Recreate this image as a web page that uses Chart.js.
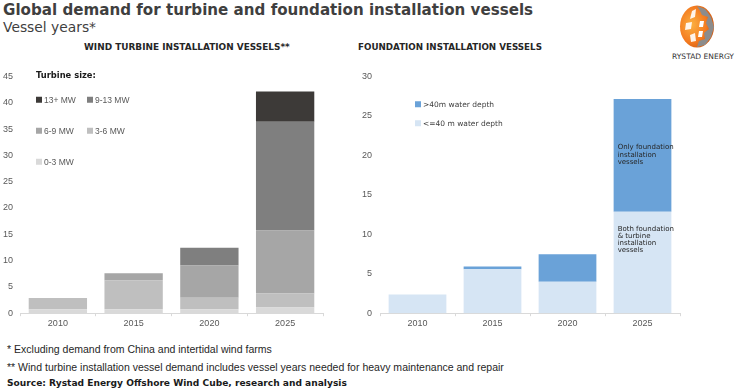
<!DOCTYPE html>
<html><head><meta charset="utf-8">
<script src="https://cdn.jsdelivr.net/npm/chart.js@4.4.0/dist/chart.umd.min.js"></script>
<style>
body{margin:0;width:737px;height:391px;background:#fff;position:relative;overflow:hidden;font-family:"DejaVu Sans",sans-serif;color:#404040}
.t{position:absolute;white-space:nowrap;line-height:1;transform:translateY(-50%)}
.sq{display:inline-block;width:6px;height:6px;margin-right:2px;vertical-align:middle;position:relative;top:-1px}
.cw{position:absolute}
</style></head><body>
<div class="t" id="title" data-w="530" style="left:3px;top:11px;font-weight:bold;font-size:15px;color:#3f3f3f">Global demand for turbine and foundation installation vessels</div>
<div class="t" id="sub" data-w="93" style="left:3px;top:28px;font-size:14px;color:#3f3f3f">Vessel years*</div>
<div class="t" data-w="206" style="left:84px;top:47px;font-weight:bold;font-size:9px;color:#262626">WIND TURBINE INSTALLATION VESSELS**</div>
<div class="t" data-w="184" style="left:358px;top:47px;font-weight:bold;font-size:9px;color:#262626">FOUNDATION INSTALLATION VESSELS</div>

<svg style="position:absolute;left:678px;top:3px" width="38" height="47" viewBox="0 0 38 47">
  <defs><radialGradient id="g" cx="0.35" cy="0.45" r="0.7"><stop offset="0" stop-color="#fbb040"/><stop offset="0.6" stop-color="#f47b20"/><stop offset="1" stop-color="#c9530d"/></radialGradient></defs>
  <ellipse cx="19" cy="23.5" rx="17" ry="21" fill="url(#g)"/>
  <path d="M19 3 L27 6 L33 14 L36 24 L33 34 L27 42 L19 44 L21 38 L27 36 L26 30 L31 26 L28 20 L30 14 L24 12 L22 8 Z" fill="#8c8c8c"/>
  <path d="M14 8 L18 6 L17 14 L12 16 Z M8 20 L14 19 L13 26 L7 27 Z M12 32 L17 30 L18 38 L13 39 Z" fill="#fff" opacity="0.9"/>
  <path d="M22 18 L26 18 L25 24 L21 24 Z M21 28 L25 28 L24 34 L20 34 Z" fill="#fff"/>
</svg>
<div class="t" data-w="62" style="left:672px;top:57px;font-size:8px;color:#333">RYSTAD ENERGY</div>

<div class="cw" style="left:0px;top:64px;width:328px;height:267px"><canvas id="c1"></canvas></div>
<div class="cw" style="left:358px;top:63px;width:324px;height:268px"><canvas id="c2"></canvas></div>

<div class="t" data-w="60" style="left:36px;top:75px;font-weight:bold;font-size:8px;color:#1a1a1a">Turbine size:</div>
<div class="t" style="left:36px;top:100px;font-family:'Liberation Sans',sans-serif;font-size:8.5px;color:#595959"><span class="sq" style="background:#3d3a38"></span>13+ MW</div>
<div class="t" style="left:87px;top:100px;font-family:'Liberation Sans',sans-serif;font-size:8.5px;color:#595959"><span class="sq" style="background:#7f7f7f"></span>9-13 MW</div>
<div class="t" style="left:36px;top:131px;font-family:'Liberation Sans',sans-serif;font-size:8.5px;color:#595959"><span class="sq" style="background:#a6a6a6"></span>6-9 MW</div>
<div class="t" style="left:87px;top:131px;font-family:'Liberation Sans',sans-serif;font-size:8.5px;color:#595959"><span class="sq" style="background:#bfbfbf"></span>3-6 MW</div>
<div class="t" style="left:36px;top:162px;font-family:'Liberation Sans',sans-serif;font-size:8.5px;color:#595959"><span class="sq" style="background:#d9d9d9"></span>0-3 MW</div>

<div class="t" style="left:415px;top:105px;font-size:7.5px;color:#404040"><span class="sq" style="background:#6aa2d8"></span>&gt;40m water depth</div>
<div class="t" style="left:415px;top:124px;font-size:7.5px;color:#404040"><span class="sq" style="background:#d6e5f4"></span>&lt;=40 m water depth</div>

<div class="t" data-w="265" style="left:7px;top:349px;font-family:'Liberation Sans',sans-serif;font-size:10px;color:#262626">* Excluding demand from China and intertidal wind farms</div>
<div class="t" data-w="497" style="left:7px;top:367px;font-family:'Liberation Sans',sans-serif;font-size:10px;color:#262626">** Wind turbine installation vessel demand includes vessel years needed for heavy maintenance and repair</div>
<div class="t" data-w="340" style="left:7px;top:384px;font-weight:bold;font-size:10px;color:#1a1a1a">Source: Rystad Energy Offshore Wind Cube, research and analysis</div>

<script>
// ---- data ----
const years = ['2010', '2015', '2020', '2025'];
const mw0_3  = [0.75, 0.75, 0.75, 1.1];
const mw3_6  = [2.15, 5.45, 2.2, 2.65];
const mw6_9  = [0, 1.4, 6.1, 11.95];
const mw9_13 = [0, 0, 3.4, 20.7];
const mw13p  = [0, 0, 0, 5.75];
const shallow = [2.37, 5.58, 3.97, 12.84];
const deep    = [0, 0.33, 3.5, 14.3];
const leftMax = 45, rightMax = 30, tickStep = 5;

// fit texts to measured widths
document.querySelectorAll('[data-w]').forEach(el => {
  const target = +el.dataset.w;
  const fs = parseFloat(el.style.fontSize);
  el.style.display = 'inline-block';
  const w = el.getBoundingClientRect().width;
  if (w > 0) el.style.fontSize = (fs * target / w).toFixed(2) + 'px';
});

const tickFont = {family: "'Liberation Sans', Arial, sans-serif", size: 9};
function scales(max, yw, pad) {
  return {
    x: {stacked: true, offset: true,
        grid: {display: true, drawOnChartArea: false, drawTicks: true, tickLength: 3, color: '#d9d9d9', offset: true},
        border: {display: true, color: '#d9d9d9'},
        ticks: {color: '#595959', font: tickFont, padding: 2}},
    y: {stacked: true, min: 0, max: max,
        afterFit: s => { s.width = yw; },
        grid: {display: false, drawTicks: false}, border: {display: false},
        ticks: {stepSize: tickStep, color: '#595959', font: tickFont, padding: pad}}
  };
}
const common = {responsive: true, maintainAspectRatio: false, animation: false,
  plugins: {legend: {display: false}, tooltip: {enabled: false}}};

const ds = (label, data, color) => ({label, data, backgroundColor: color, borderWidth: 0,
  barPercentage: 0.77, categoryPercentage: 1});

new Chart(document.getElementById('c1'), {
  type: 'bar',
  data: {labels: years, datasets: [
    ds('0-3 MW', mw0_3, '#d9d9d9'),
    ds('3-6 MW', mw3_6, '#bfbfbf'),
    ds('6-9 MW', mw6_9, '#a6a6a6'),
    ds('9-13 MW', mw9_13, '#7f7f7f'),
    ds('13+ MW', mw13p, '#3d3a38')
  ]},
  options: Object.assign({}, common, {layout: {padding: {top: 0, right: 5, left: 0, bottom: 0}},
    scales: scales(leftMax, 20, 7)})
});

const annot = {
  id: 'annot',
  afterDatasetsDraw(chart) {
    const ctx = chart.ctx;
    const el = chart.getDatasetMeta(1).data[3];
    const y = chart.scales.y;
    const x0 = el.x - el.width / 2 + 4;
    ctx.save();
    ctx.fillStyle = '#262626';
    ctx.font = "7px 'DejaVu Sans', sans-serif";
    ctx.textBaseline = 'middle';
    const draw = (lines, v) => {
      const top = y.getPixelForValue(v);
      lines.forEach((l, i) => ctx.fillText(l, x0, top + i * 7.3));
    };
    draw(['Only foundation', 'installation', 'vessels'], 21);
    draw(['Both foundation', '& turbine', 'installation', 'vessels'], 10.7);
    ctx.restore();
  }
};

new Chart(document.getElementById('c2'), {
  type: 'bar',
  data: {labels: years, datasets: [
    ds('<=40 m water depth', shallow, '#d6e5f4'),
    ds('>40m water depth', deep, '#6aa2d8')
  ]},
  options: Object.assign({}, common, {layout: {padding: {top: 0, right: 2, left: 0, bottom: 0}},
    scales: scales(rightMax, 22, 8)}),
  plugins: [annot]
});
</script>
</body></html>
